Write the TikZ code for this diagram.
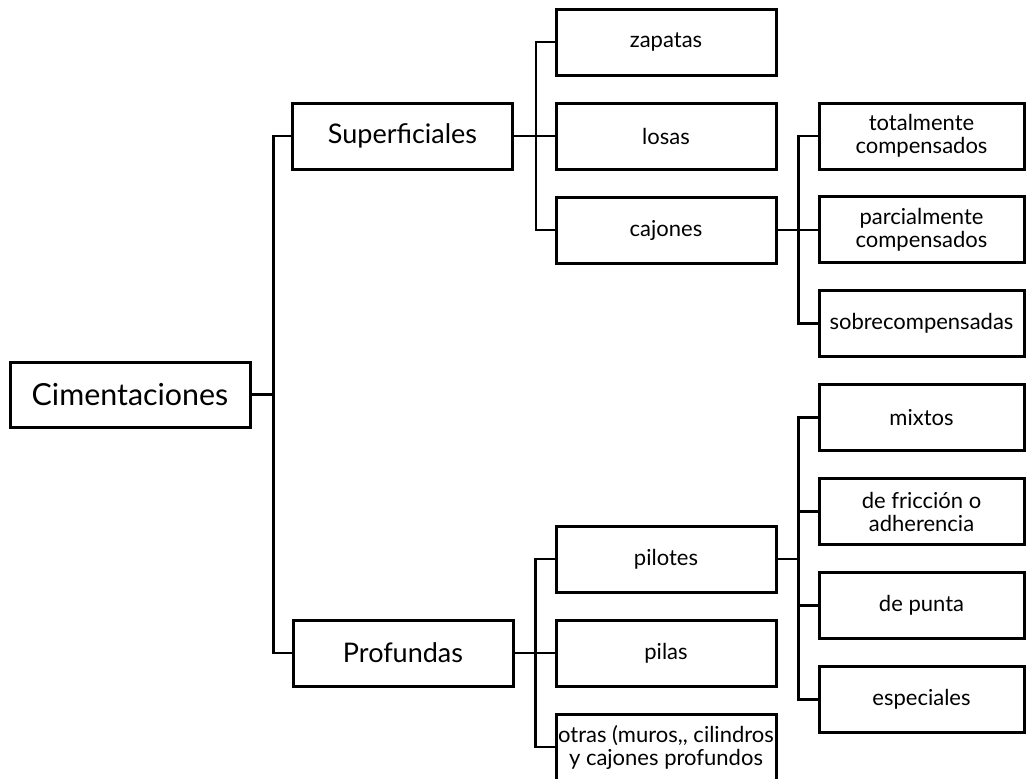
\documentclass[tikz,border=0pt]{standalone}
\usepackage{fontspec}
\setmainfont{Lato}
\usetikzlibrary{positioning}

\tikzset{
  caja/.style={draw, rectangle, line width=1.5pt, minimum width=110pt, minimum height=33pt,
    align=center, inner sep=1pt, font=\fontsize{11}{11.5}\selectfont},
  rama/.style={caja, font=\fontsize{13.5}{15}\selectfont},
  raiz/.style={caja, minimum width=120pt, minimum height=32.5pt, font=\fontsize{15.2}{17}\selectfont},
  hoja/.style={caja, minimum width=102.5pt},
  liga/.style={line width=1.3pt}
}

\begin{document}
\begin{tikzpicture}[x=0.5pt, y=-0.5pt]
   \useasboundingbox (0,0) rectangle (1027,778);
   % raiz y ramas
   \node[raiz] (cim) at (130,394.5) {Cimentaciones};
   \node[rama] (sup) at (402.5,136) {Superficiales};
   \node[rama] (pro) at (403,653) {Profundas};
   % superficiales
   \node[caja] (zap) at (666,42) {zapatas};
   \node[caja,below=12.5pt of zap] (los) {losas};
   \node[caja,below=12.5pt of los] (caj) {cajones};
   % profundas
   \node[caja] (pil) at (666,559) {pilotes};
   \node[caja,below=12.5pt of pil] (pia) {pilas};
   \node[caja,below=12.5pt of pia] (otr) {otras (muros,{}, cilindros\\y cajones profundos};
   % cajones
   \node[hoja] (tot) at (921.5,136) {totalmente\\compensados};
   \node[hoja,below=12.4pt of tot] (par) {parcialmente\\compensados};
   \node[hoja,below=12.4pt of par] (sob) {sobrecompensadas};
   % pilotes
   \node[hoja] (mix) at (921.5,417.5) {mixtos};
   \node[hoja,below=12.5pt of mix] (fri) {de fricción o\\adherencia};
   \node[hoja,below=12.5pt of fri] (pun) {de punta};
   \node[hoja,below=12.5pt of pun] (esp) {especiales};
   % ligas
   \foreach \n in {sup,pro} \draw[liga] (cim.east) -- ++(22,0) |- (\n.west);
   \foreach \n in {zap,los,caj} \draw[liga] (sup.east) -- ++(22,0) |- (\n.west);
   \foreach \n in {pil,pia,otr} \draw[liga] (pro.east) -- ++(21,0) |- (\n.west);
   \foreach \n in {tot,par,sob} \draw[liga] (caj.east) -- ++(21,0) |- (\n.west);
   \foreach \n in {mix,fri,pun,esp} \draw[liga] (pil.east) -- ++(21,0) |- (\n.west);
\end{tikzpicture}
\end{document}
